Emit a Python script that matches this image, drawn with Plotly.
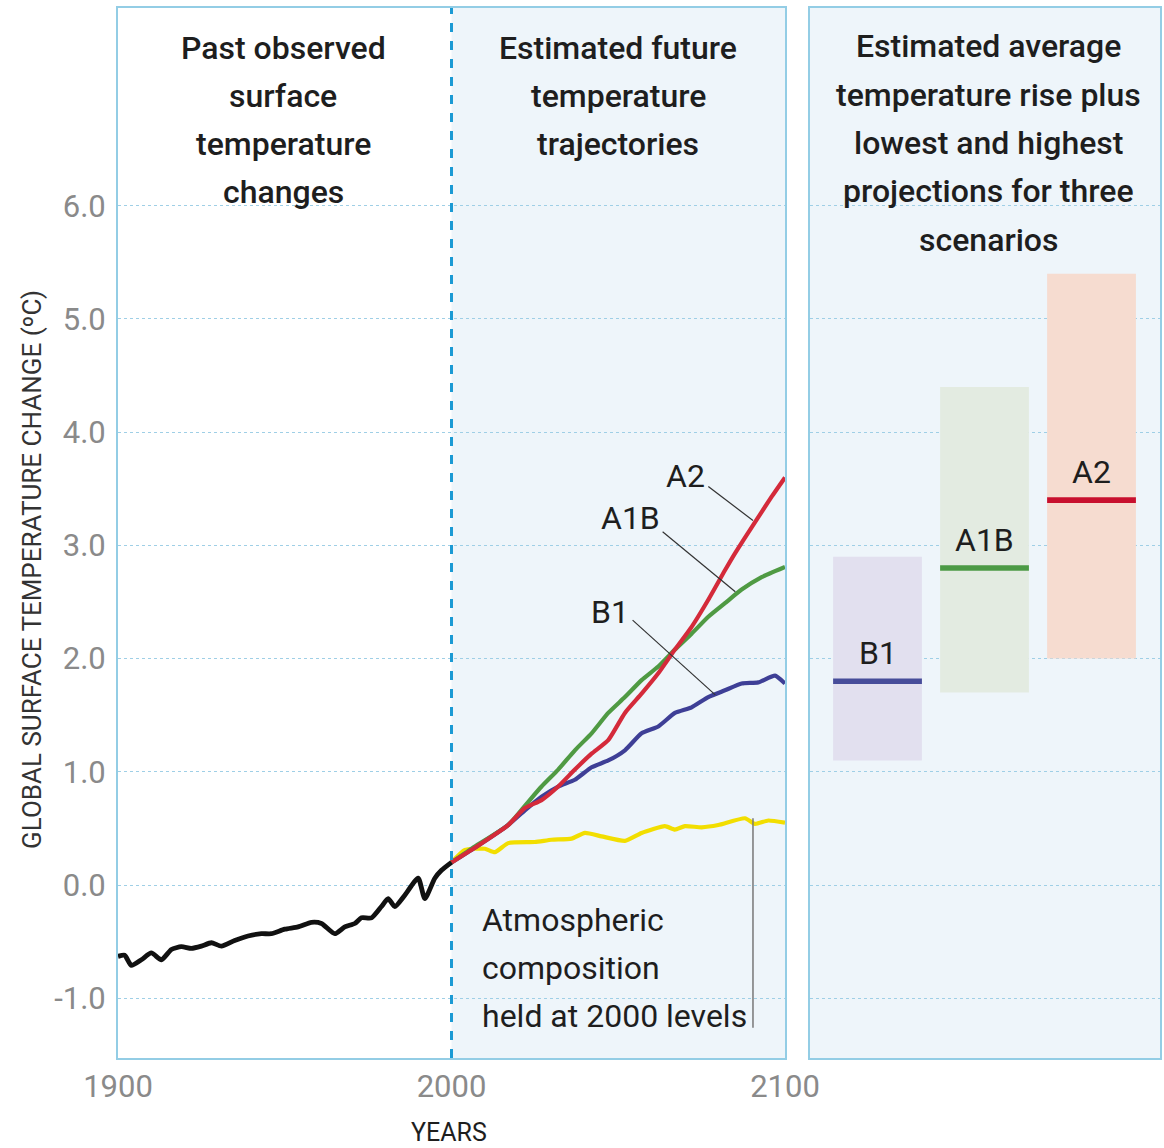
import plotly.graph_objects as go

# ---------------- data ----------------
years_obs = [1900, 1902, 1904, 1907, 1910, 1913, 1916, 1919, 1922, 1925, 1928, 1931, 1935,
             1939, 1943, 1946, 1950, 1954, 1958, 1961, 1965, 1968, 1971, 1973, 1976, 1979,
             1981, 1983, 1986, 1990, 1992, 1995, 1997, 2000]
temp_obs = [-0.63, -0.62, -0.71, -0.66, -0.60, -0.66, -0.57, -0.545, -0.56, -0.54, -0.51,
            -0.54, -0.49, -0.45, -0.43, -0.43, -0.39, -0.37, -0.33, -0.34, -0.43, -0.37,
            -0.34, -0.29, -0.29, -0.19, -0.12, -0.19, -0.09, 0.06, -0.12, 0.06, 0.13, 0.20]

years_a2 = [2000, 2007, 2017, 2022, 2027, 2032, 2037, 2042, 2047, 2052, 2057, 2062, 2067,
            2072, 2077, 2082, 2085, 2090, 2096, 2100]
temp_a2 = [0.20, 0.33, 0.53, 0.68, 0.75, 0.87, 1.02, 1.16, 1.28, 1.52, 1.69, 1.87, 2.08,
           2.28, 2.52, 2.78, 2.93, 3.16, 3.43, 3.60]

years_a1b = [2000, 2007, 2017, 2022, 2027, 2032, 2037, 2042, 2047, 2052, 2057, 2062, 2067,
             2072, 2077, 2082, 2087, 2093, 2100]
temp_a1b = [0.20, 0.34, 0.53, 0.70, 0.87, 1.02, 1.19, 1.34, 1.52, 1.66, 1.81, 1.93, 2.08,
            2.22, 2.37, 2.49, 2.61, 2.72, 2.81]

years_b1 = [2000, 2007, 2017, 2022, 2027, 2032, 2037, 2042, 2047, 2052, 2057, 2062, 2067,
            2072, 2077, 2082, 2087, 2092, 2097, 2100]
temp_b1 = [0.20, 0.33, 0.53, 0.66, 0.78, 0.87, 0.93, 1.04, 1.10, 1.19, 1.34, 1.40, 1.52,
           1.57, 1.66, 1.72, 1.78, 1.79, 1.85, 1.78]

years_const = [2000, 2004, 2010, 2013, 2017, 2025, 2030, 2036, 2040, 2045, 2052, 2057, 2064,
               2067, 2070, 2075, 2080, 2088, 2091, 2095, 2100]
temp_const = [0.20, 0.31, 0.32, 0.29, 0.37, 0.38, 0.40, 0.41, 0.46, 0.43, 0.39, 0.46, 0.52,
              0.49, 0.52, 0.51, 0.53, 0.59, 0.54, 0.57, 0.55]

scenarios = ["B1", "A1B", "A2"]
scen_low = [1.1, 1.7, 2.0]
scen_high = [2.9, 4.4, 5.4]
scen_mean = [1.8, 2.8, 3.4]

y_ticks = [-1.0, 0.0, 1.0, 2.0, 3.0, 4.0, 5.0, 6.0]
y_tick_text = ["-1.0", "0.0", "1.0", "2.0", "3.0", "4.0", "5.0", "6.0"]
x_ticks = [1900, 2000, 2100]

title_left = ["Past observed", "surface", "temperature", "changes"]
title_mid = ["Estimated future", "temperature", "trajectories"]
title_right = ["Estimated average", "temperature rise plus", "lowest and highest",
               "projections for three", "scenarios"]
note_lines = ["Atmospheric", "composition", "held at 2000 levels"]

# ---------------- styles ----------------
FONT = "Roboto, Liberation Sans, Arial, sans-serif"
BORDER = "#93cde5"
GRID = "#9fcfe6"
PANEL_BG = "#eef5fa"
TEXT = "#1e1e1e"
TICK = "#8a8a8a"
col_a2, col_a1b, col_b1, col_const = "#d42a3a", "#4f9a43", "#3e3f96", "#f2de00"
box_cols = ["#e2e0ef", "#e3ebe1", "#f6dcd0"]
mean_cols = ["#474d9a", "#4c9a45", "#c8102e"]

W, H = 1164, 1148
fig = go.Figure()

line_kw = dict(mode="lines", hoverinfo="skip", showlegend=False)
fig.add_trace(go.Scatter(x=years_const, y=temp_const, line=dict(color=col_const, width=4.2, shape="spline", smoothing=0.5), **line_kw))
fig.add_trace(go.Scatter(x=years_b1, y=temp_b1, line=dict(color=col_b1, width=4.2, shape="spline", smoothing=0.5), **line_kw))
fig.add_trace(go.Scatter(x=years_a1b, y=temp_a1b, line=dict(color=col_a1b, width=4.2, shape="spline", smoothing=0.5), **line_kw))
fig.add_trace(go.Scatter(x=years_a2, y=temp_a2, line=dict(color=col_a2, width=4.2, shape="spline", smoothing=0.5), **line_kw))
fig.add_trace(go.Scatter(x=years_obs, y=temp_obs, line=dict(color="#111111", width=4.8, shape="spline", smoothing=0.6), **line_kw))

# right panel: range boxes and means
idx = list(range(len(scenarios)))
BW = 0.83
fig.add_trace(go.Bar(x=idx, y=[h - l for h, l in zip(scen_high, scen_low)], base=scen_low,
                     width=BW, marker=dict(color=box_cols, line=dict(width=0)),
                     xaxis="x2", yaxis="y2", hoverinfo="skip", showlegend=False))
MT = 0.05
fig.add_trace(go.Bar(x=idx, y=[MT] * len(idx), base=[m - MT / 2 for m in scen_mean],
                     width=BW, marker=dict(color=mean_cols, line=dict(width=0)),
                     xaxis="x2", yaxis="y2", hoverinfo="skip", showlegend=False))

for i, (name, m) in enumerate(zip(scenarios, scen_mean)):
    fig.add_annotation(x=i, y=m + 0.06, xref="x2", yref="y2", text=name, showarrow=False,
                       yanchor="bottom", font=dict(family=FONT, size=32, color=TEXT))

YR = [-1.528, 7.747]
YDOM = [1 - 1058 / H, 1 - 8 / H]
fig.update_layout(
    width=W, height=H,
    margin=dict(l=0, r=0, t=0, b=0, autoexpand=False),
    paper_bgcolor="white", plot_bgcolor=PANEL_BG,
    barmode="overlay",
    xaxis=dict(domain=[118 / W, 785 / W], range=[1900, 2100], tickvals=x_ticks,
               ticks="", showgrid=False, zeroline=False, automargin=False,
               showline=True, linecolor=BORDER, linewidth=2, mirror=True,
               tickfont=dict(family=FONT, size=31, color=TICK), ticklabelstandoff=0),
    yaxis=dict(domain=YDOM, range=YR, tickvals=y_ticks, ticktext=y_tick_text,
               ticks="", showgrid=True, gridcolor=GRID, gridwidth=1, griddash="dot",
               zeroline=False, automargin=False, showline=True, linecolor=BORDER,
               linewidth=2, mirror=True,
               tickfont=dict(family=FONT, size=31, color=TICK), ticklabelstandoff=4),
    xaxis2=dict(domain=[810 / W, 1160 / W], range=[-0.631, 2.640], anchor="y2",
                showticklabels=False, ticks="", showgrid=False, zeroline=False,
                automargin=False, showline=True, linecolor=BORDER, linewidth=2, mirror=True),
    yaxis2=dict(domain=YDOM, range=YR, anchor="x2", tickvals=y_ticks,
                showticklabels=False, ticks="", showgrid=True, gridcolor=GRID, gridwidth=1,
                griddash="dot", zeroline=False, automargin=False, showline=True,
                linecolor=BORDER, linewidth=2, mirror=True),
)

# white background for observed period
fig.add_shape(type="rect", xref="x", yref="y", x0=1900, x1=2000, y0=YR[0], y1=YR[1],
              fillcolor="white", line=dict(width=0), layer="below")
# dashed 2000 separator
fig.add_shape(type="line", xref="x", yref="y", x0=2000, x1=2000, y0=YR[0], y1=YR[1],
              line=dict(color="#1b9ad4", width=3, dash="dash"))


def text_lines(lines, x_px, first_base, step, size, anchor="center", weight=500):
    for k, t in enumerate(lines):
        base = first_base + k * step
        fig.add_annotation(x=x_px / W, y=1 - (base - 0.36 * size) / H, xref="paper",
                           yref="paper", text=t, showarrow=False, xanchor=anchor,
                           yanchor="middle",
                           font=dict(family=FONT, size=size, color=TEXT, weight=weight))


# panel titles
text_lines(title_left, 283, 60, 48, 32)
text_lines(title_mid, 618, 60, 48, 32)
text_lines(title_right, 988, 58, 48.3, 32)

# scenario labels with leader lines (left panel)
lab_font = dict(family=FONT, size=32, color=TEXT)
for txt, lx, ly, x0, y0, x1, y1 in [("A2", 2070.1, 3.61, 2077.0, 3.52, 2090.4, 3.22),
                                    ("A1B", 2053.7, 3.24, 2063.3, 3.12, 2085.1, 2.59),
                                    ("B1", 2047.5, 2.41, 2054.3, 2.34, 2079.1, 1.68)]:
    fig.add_annotation(x=lx, y=ly, xref="x", yref="y", text=txt, showarrow=False, font=lab_font)
    fig.add_shape(type="line", xref="x", yref="y", x0=x0, y0=y0, x1=x1, y1=y1,
                  line=dict(color="#333333", width=1.2))

# constant composition note
fig.add_shape(type="line", xref="x", yref="y", x0=2090.4, x1=2090.4, y0=0.59, y1=-1.26,
              line=dict(color="#777777", width=1.5))
text_lines(note_lines, 480, 932, 48, 32, anchor="left", weight=400)

# axis titles
fig.add_annotation(x=449 / W, y=1 - 1132 / H, xref="paper", yref="paper", text="YEARS",
                   showarrow=False, xanchor="center", yanchor="middle",
                   font=dict(family=FONT, size=25, color=TEXT))
fig.add_annotation(x=32 / W, y=1 - 570 / H, xref="paper", yref="paper",
                   text="GLOBAL SURFACE TEMPERATURE CHANGE (ºC)", textangle=-90,
                   showarrow=False, xanchor="center", yanchor="middle",
                   font=dict(family=FONT, size=26, color="#333333"))

fig.write_html("out.html")
